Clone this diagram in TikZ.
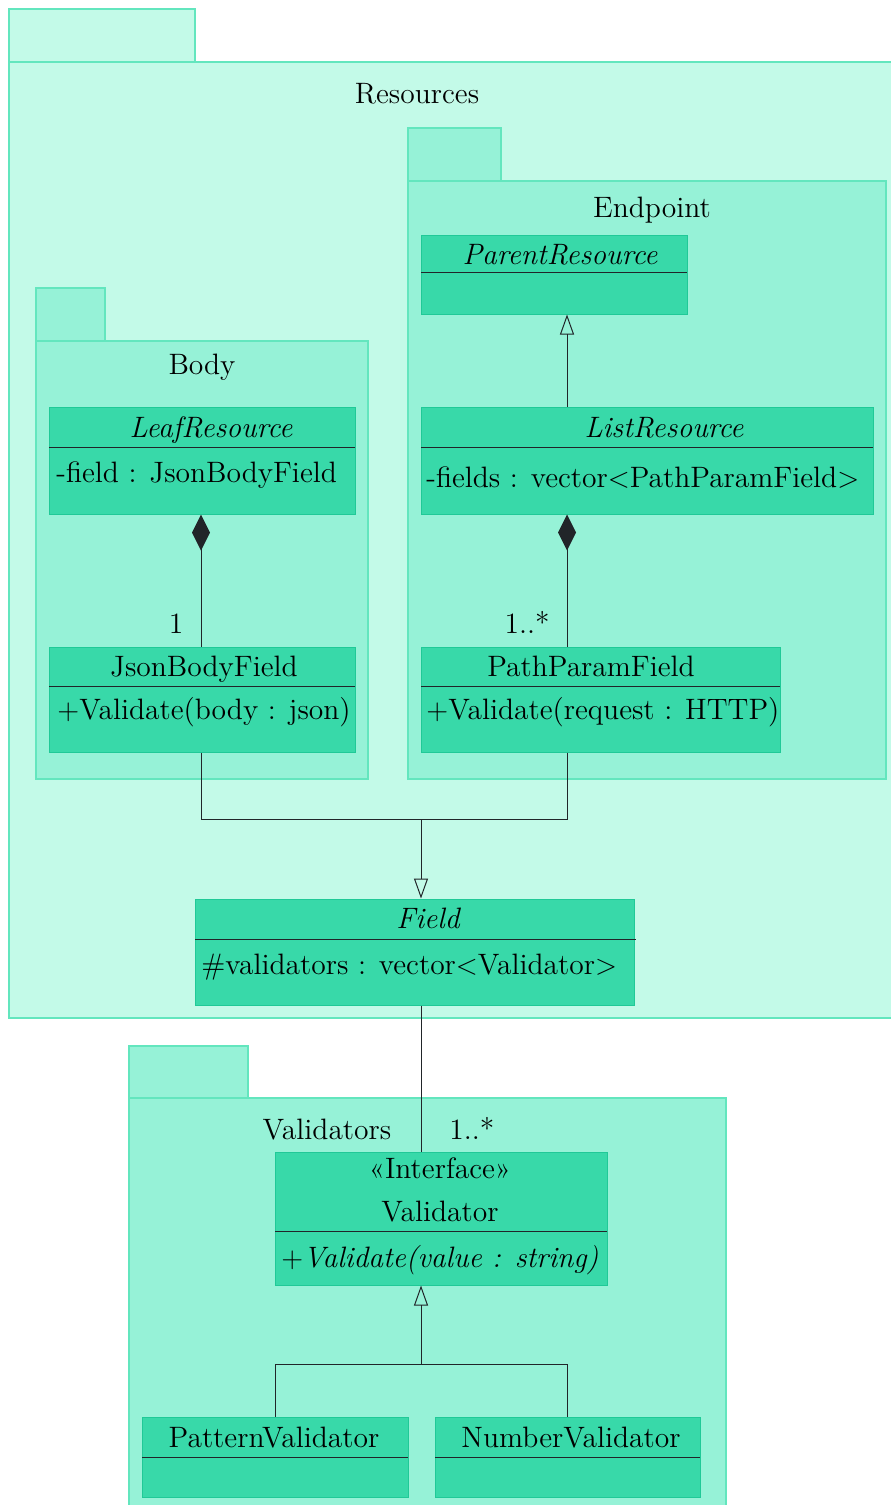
\documentclass[tikz,border=0pt]{standalone}
\usepackage{fontspec}
\usetikzlibrary{arrows.meta,fit}
\definecolor{teal1}{HTML}{C3FAE8}
\definecolor{teal2}{HTML}{96F2D7}
\definecolor{teal3}{HTML}{63E6BE}
\definecolor{teal4}{HTML}{38D9A9}
\definecolor{teal5}{HTML}{20C997}
\definecolor{ink}{HTML}{212529}
\tikzset{
  pkgouter/.style={draw=teal3, fill=teal1, line width=0.6pt, inner sep=0pt, rectangle},
  pkginner/.style={draw=teal3, fill=teal2, line width=0.6pt, inner sep=0pt, rectangle},
  umlclass/.style={draw=teal5, fill=teal4, line width=0.5pt, inner sep=0pt, rectangle},
  divider/.style={draw=ink, line width=0.5pt},
  conn/.style={draw=ink, line width=0.5pt},
  txt/.style={inner sep=0pt, anchor=base},
  attr/.style={inner sep=0pt, anchor=base west},
  generalize/.style={-{Triangle[open, length=10pt, width=7pt]}},
  composition/.style={{Diamond[length=18pt, width=9pt]}-},
}
\begin{document}
\begin{tikzpicture}[x=0.5pt, y=-0.5pt, font=\fontsize{14.75}{17.5}\selectfont]
\useasboundingbox (0,0) rectangle (890,1505);

% ---------- package Resources ----------
\node[pkgouter, fit={(9,9)(195,62)}] (resTab) {};
\node[pkgouter, fit={(9,62)(895,1018)}] (resBody) {};
\node[txt] (resLabel) at (417,103) {Resources};

% ---------- package Endpoint ----------
\node[pkginner, fit={(408,128)(501,181)}] (endTab) {};
\node[pkginner, fit={(408,181)(886,779)}] (endBody) {};
\node[txt] (endLabel) at (652,217) {Endpoint};

% ---------- package Body ----------
\node[pkginner, fit={(36,288)(105,341)}] (bodyTab) {};
\node[pkginner, fit={(36,341)(368,779)}] (bodyBody) {};
\node[txt] (bodyLabel) at (202,374) {Body};

% ---------- classes in Endpoint ----------
\node[umlclass, fit={(421,235)(687,314)}] (parent) {};
\draw[divider] (421,272) -- (687,272);
\node[txt] (parentName) at (560,264) {\itshape ParentResource};

\node[umlclass, fit={(421,407)(873,514)}] (list) {};
\draw[divider] (421,447) -- (873,447);
\node[txt] (listName) at (664,437) {\itshape ListResource};
\node[attr] (listAttr) at (426,487) {-fields : vector$<$PathParamField$>$};

\node[umlclass, fit={(421,647)(780,752)}] (ppf) {};
\draw[divider] (421,686) -- (780,686);
\node[txt] (ppfName) at (591,676) {PathParamField};
\node[attr] (ppfOp) at (426,719) {$+$Validate(request : HTTP)};

% ---------- classes in Body ----------
\node[umlclass, fit={(49,407)(355,514)}] (leaf) {};
\draw[divider] (49,447) -- (355,447);
\node[txt] (leafName) at (211,437) {\itshape LeafResource};
\node[attr] (leafAttr) at (56,482) {-field : JsonBodyField};

\node[umlclass, fit={(49,647)(355,752)}] (jbf) {};
\draw[divider] (49,686) -- (355,686);
\node[txt] (jbfName) at (204,676) {JsonBodyField};
\node[attr] (jbfOp) at (57,719) {$+$Validate(body : json)};

% ---------- class Field ----------
\node[umlclass, fit={(195,899)(634,1005)}] (field) {};
\draw[divider] (195,939) -- (636,939);
\node[txt] (fieldName) at (428,928) {\itshape Field};
\node[attr] (fieldAttr) at (201,974) {\#validators : vector$<$Validator$>$};

% ---------- package Validators ----------
\node[pkginner, fit={(129,1046)(248,1098)}] (valTab) {};
\node[pkginner, fit={(129,1098)(726,1515)}] (valBody) {};
\node[txt] (valLabel) at (327,1139) {Validators};

\node[umlclass, fit={(275,1152)(607,1285)}] (validator) {};
\draw[divider] (275,1231) -- (607,1231);
\node[txt] (validatorStereo) at (440,1178) {«Interface»};
\node[txt] (validatorName) at (440,1221) {Validator};
\node[attr] (validatorOp) at (281,1267) {$+$\itshape Validate(value : string)};

\node[umlclass, fit={(142,1417)(408,1497)}] (pattern) {};
\draw[divider] (142,1457) -- (408,1457);
\node[txt] (patternName) at (274,1447) {PatternValidator};

\node[umlclass, fit={(435,1417)(700,1497)}] (number) {};
\draw[divider] (435,1457) -- (700,1457);
\node[txt] (numberName) at (571,1447) {NumberValidator};

% ---------- connectors ----------
\coordinate (colR) at (567,0);
\coordinate (colL) at (201,0);
\coordinate (junc) at (421,819);
\coordinate (vjunc) at (421,1364);

% ListResource specialises ParentResource
\draw[conn, generalize] (list.north -| colR) -- (parent.south -| colR);

% compositions
\draw[conn, composition] (leaf.south -| colL) -- (jbf.north -| colL);
\node[txt] (oneL) at (176,633) {1};
\draw[conn, composition] (list.south -| colR) -- (ppf.north -| colR);
\node[txt, anchor=base east] (manyR) at (550,633) {1..*};

% both field kinds specialise Field
\draw[conn] (jbf.south -| colL) |- (junc);
\draw[conn] (ppf.south -| colR) |- (junc);
\draw[conn, generalize] (junc) -- (field.north -| junc);

% Field holds validators
\draw[conn] (field.south -| junc) -- (validator.north -| junc);
\node[txt, anchor=base west] (manyV) at (449,1139) {1..*};

% concrete validators implement Validator
\draw[conn] (pattern.north) |- (vjunc);
\draw[conn] (number.north -| colR) |- (vjunc);
\draw[conn, generalize] (vjunc) -- (validator.south -| vjunc);
\end{tikzpicture}
\end{document}
